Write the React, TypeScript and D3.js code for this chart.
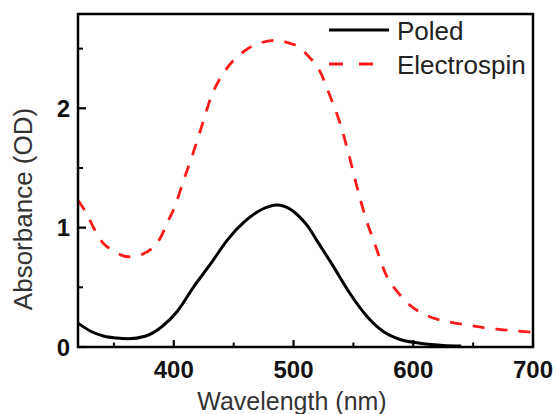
import React, { useEffect, useRef } from 'react';
import * as d3 from 'd3';

const poledWavelength = [320, 331, 342, 352, 362, 376, 390, 403, 417, 431, 445, 459, 473, 486, 498, 505, 512, 519, 533, 547, 561, 575, 589, 603, 615, 625, 640];
const poledAbsorbance = [0.2, 0.13, 0.09, 0.075, 0.069, 0.09, 0.17, 0.3, 0.51, 0.7, 0.9, 1.05, 1.15, 1.19, 1.15, 1.09, 1.01, 0.9, 0.68, 0.45, 0.26, 0.13, 0.063, 0.035, 0.02, 0.012, 0.008];

const spinWavelength = [320, 327, 334, 341, 349, 356, 364, 372, 381, 388, 395, 401, 408, 416, 423, 431, 444, 459, 473, 486, 495, 505, 513, 521, 531, 539, 546, 552, 560, 568, 578, 587, 595, 608, 621, 635, 648, 660, 673, 685, 700];
const spinAbsorbance = [1.23, 1.12, 0.98, 0.87, 0.81, 0.77, 0.755, 0.77, 0.82, 0.9, 1.05, 1.18, 1.39, 1.62, 1.84, 2.09, 2.33, 2.48, 2.55, 2.57, 2.55, 2.51, 2.43, 2.33, 2.09, 1.87, 1.62, 1.38, 1.09, 0.86, 0.59, 0.46, 0.37, 0.28, 0.23, 0.2, 0.18, 0.16, 0.146, 0.135, 0.122];

const seriesNames = ['Poled', 'Electrospin'];
const xMajorTicks = [400, 500, 600, 700];
const xMinorTicks = [350, 450, 550, 650];
const yMajorTicks = [0, 1, 2];
const yMinorTicks = [0.5, 1.5, 2.5];

const FONT = '"Liberation Sans", Arial, sans-serif';

export default function App() {
  const ref = useRef<SVGSVGElement>(null);

  useEffect(() => {
    const width = 556;
    const height = 414;
    const margin = { top: 14, right: 23, bottom: 67, left: 78 };

    const svg = d3.select(ref.current);
    svg.selectAll('*').remove();

    const x = d3.scaleLinear().domain([320, 700]).range([margin.left, width - margin.right]);
    const y = d3.scaleLinear().domain([0, 2.79]).range([height - margin.bottom, margin.top]);

    const line = d3
      .line<[number, number]>()
      .x((d) => x(d[0]))
      .y((d) => y(d[1]))
      .curve(d3.curveMonotoneX);

    const poled = poledWavelength.map((w, i) => [w, poledAbsorbance[i]] as [number, number]);
    const spin = spinWavelength.map((w, i) => [w, spinAbsorbance[i]] as [number, number]);

    svg.append('path')
      .attr('d', line(spin))
      .attr('fill', 'none')
      .attr('stroke', '#ff1a1a')
      .attr('stroke-width', 2.8)
      .attr('stroke-dasharray', '12,11');

    svg.append('path')
      .attr('d', line(poled))
      .attr('fill', 'none')
      .attr('stroke', '#000')
      .attr('stroke-width', 3);

    // frame
    svg.append('rect')
      .attr('x', x(320))
      .attr('y', y(2.79))
      .attr('width', x(700) - x(320))
      .attr('height', y(0) - y(2.79))
      .attr('fill', 'none')
      .attr('stroke', '#000')
      .attr('stroke-width', 2.5);

    const y0 = y(0);
    const x0 = x(320);

    // x ticks (inward)
    xMajorTicks.forEach((t) => {
      svg.append('line').attr('x1', x(t)).attr('x2', x(t)).attr('y1', y0).attr('y2', y0 - 7)
        .attr('stroke', '#000').attr('stroke-width', 2.2);
      svg.append('text').attr('x', x(t)).attr('y', 378).attr('text-anchor', 'middle')
        .style('font-family', FONT).style('font-size', '24px').style('font-weight', 'bold')
        .attr('fill', '#111').text(t);
    });
    xMinorTicks.forEach((t) => {
      svg.append('line').attr('x1', x(t)).attr('x2', x(t)).attr('y1', y0).attr('y2', y0 - 4.5)
        .attr('stroke', '#000').attr('stroke-width', 2);
    });

    yMajorTicks.forEach((t) => {
      svg.append('line').attr('x1', x0).attr('x2', x0 + 8).attr('y1', y(t)).attr('y2', y(t))
        .attr('stroke', '#000').attr('stroke-width', 2.2);
      svg.append('text').attr('x', 70).attr('y', y(t) + 8.5).attr('text-anchor', 'end')
        .style('font-family', FONT).style('font-size', '24px').style('font-weight', 'bold')
        .attr('fill', '#111').text(t);
    });
    yMinorTicks.forEach((t) => {
      svg.append('line').attr('x1', x0).attr('x2', x0 + 5).attr('y1', y(t)).attr('y2', y(t))
        .attr('stroke', '#000').attr('stroke-width', 2);
    });

    // axis titles
    svg.append('text').attr('x', 292).attr('y', 410).attr('text-anchor', 'middle')
      .style('font-family', FONT).style('font-size', '25px').attr('fill', '#333')
      .text('Wavelength (nm)');

    svg.append('text')
      .attr('transform', 'translate(32,209) rotate(-90)')
      .attr('text-anchor', 'middle')
      .style('font-family', FONT).style('font-size', '26px').attr('fill', '#333')
      .text('Absorbance (OD)');

    // legend
    const legend = svg.append('g');
    const styles = [
      { stroke: '#000', dash: null },
      { stroke: '#ff1a1a', dash: '14,16' },
    ];
    seriesNames.forEach((name, i) => {
      const ly = 30 + i * 34;
      legend.append('line').attr('x1', 329).attr('x2', 389).attr('y1', ly).attr('y2', ly)
        .attr('stroke', styles[i].stroke).attr('stroke-width', 2.8)
        .attr('stroke-dasharray', styles[i].dash);
      legend.append('text').attr('x', 397).attr('y', ly + 9.5)
        .style('font-family', FONT).style('font-size', '26px').attr('fill', '#222')
        .text(name);
    });
  }, []);

  return (
    <svg
      ref={ref}
      width={556}
      height={414}
      style={{ position: 'absolute', left: 0, top: 0, background: '#fff' }}
    />
  );
}
